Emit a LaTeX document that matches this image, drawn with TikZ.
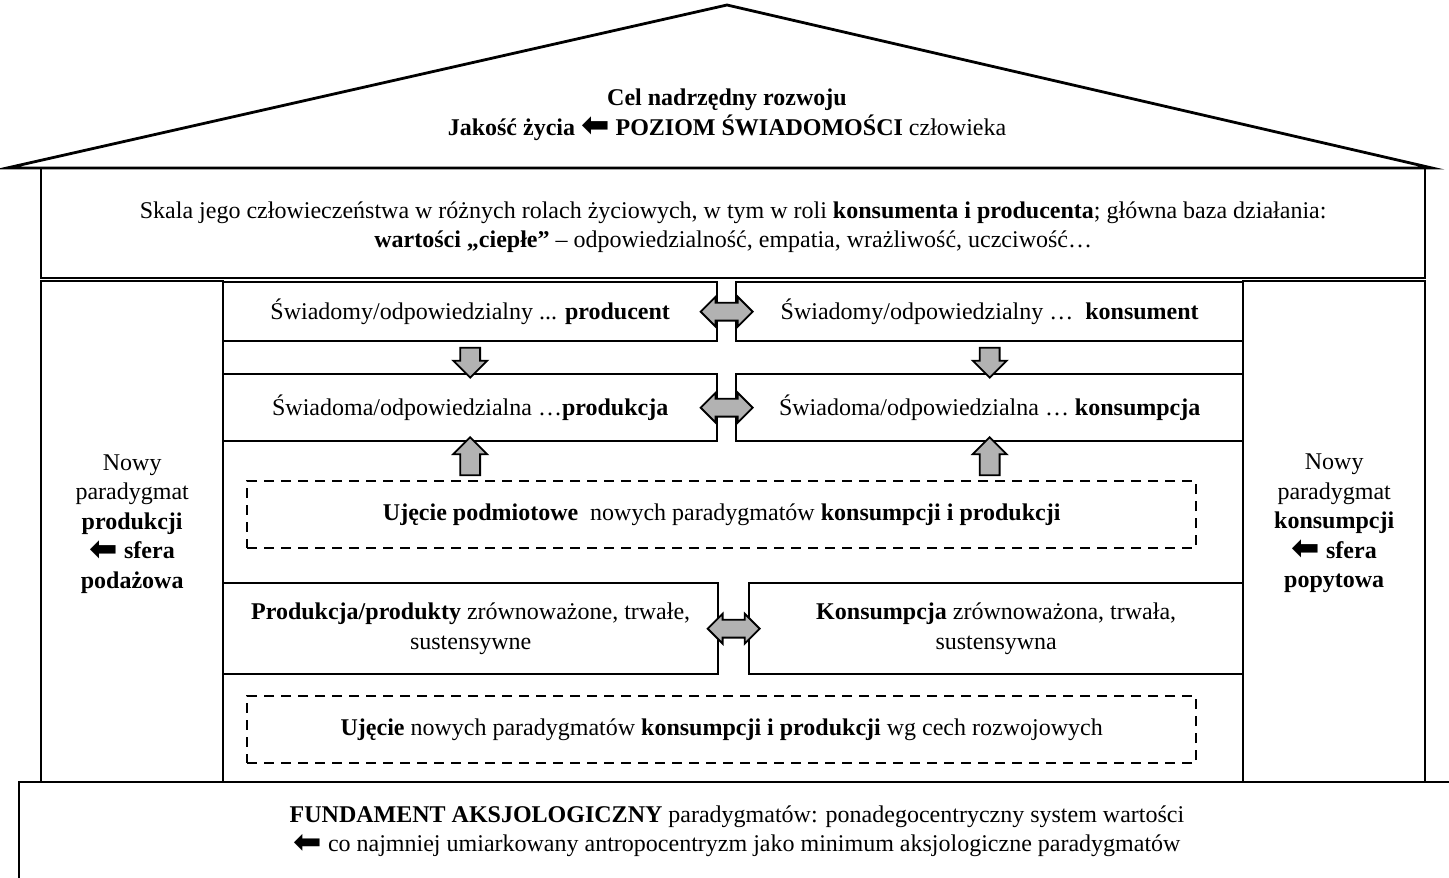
\documentclass[tikz,border=0pt]{standalone}
\usepackage{fontspec}
\setmainfont{Liberation Serif}
\newfontfamily\arrowfont{DejaVu Sans}
\usetikzlibrary{shapes.arrows, calc, positioning}
\newcommand{\lar}{{\arrowfont\fontsize{34}{34}\selectfont\raisebox{-1.5pt}{\symbol{"2B05}}}}

\begin{document}
\begin{tikzpicture}[
    x=1pt, y=-1pt,
    font=\fontsize{24}{29.5}\selectfont,
    wall/.style={draw, line width=2.4pt, align=center, inner sep=0pt},
    dashbox/.style={draw, line width=2.4pt, dash pattern=on 10pt off 7pt, align=center, inner sep=0pt},
    roof/.style={draw, line width=2.8pt, line join=miter},
    lr/.style={double arrow, draw, line width=1.8pt, fill=black!30, minimum height=52pt, minimum width=29pt, double arrow head extend=6pt, inner sep=8pt},
    vert/.style={single arrow, draw, line width=1.8pt, fill=black!30, minimum width=32pt, single arrow head extend=7pt, inner sep=9pt},
]
\useasboundingbox (0,0) rectangle (1449,878);

% Roof
\draw[roof] (7,168) -- (727,5) -- (1432,168) -- cycle;
\node[align=center] (goal) at (727,115) {\textbf{Cel nadrzędny rozwoju}\\
  \textbf{Jakość życia \lar{} POZIOM ŚWIADOMOŚCI} człowieka};

% Upper storey
\node[wall, anchor=north west, minimum width=1384, minimum height=110] (scale) at (40,167) {};
\node[align=center] (scaletext) at ($(scale.center)+(0,4)$)
  {Skala jego człowieczeństwa w różnych rolach życiowych, w tym w roli \textbf{konsumenta i producenta}; główna baza działania:\\
   \textbf{wartości „ciepłe”} – odpowiedzialność, empatia, wrażliwość, uczciwość…};

% Side columns
\node[wall, anchor=north west, minimum width=182, minimum height=501] (prodcol) at (40,280) {};
\node[wall, anchor=north west, minimum width=182, minimum height=501] (konscol) at (1242,280) {};
\node[align=center] (prodtext) at ($(prodcol.center)+(0,-8)$)
  {Nowy\\paradygmat\\\textbf{produkcji}\\\textbf{\lar{} sfera}\\\textbf{podażowa}};
\node[align=center] (konstext) at ($(konscol.center)+(0,-8)$)
  {Nowy\\paradygmat\\\textbf{konsumpcji}\\\textbf{\lar{} sfera}\\\textbf{popytowa}};

% Middle rows
\node[wall, anchor=north west, minimum width=494, minimum height=59] (prodA) at (222,281)
  {Świadomy/odpowiedzialny ... \textbf{producent}};
\node[wall, anchor=north west, minimum width=507, minimum height=59] (konsA) at (735,281)
  {Świadomy/odpowiedzialny …\ \ \textbf{konsument}};
\node[wall, anchor=north west, minimum width=494, minimum height=67] (prodB) at (222,373)
  {Świadoma/odpowiedzialna …\textbf{produkcja}};
\node[wall, anchor=north west, minimum width=507, minimum height=67] (konsB) at (735,373)
  {Świadoma/odpowiedzialna … \textbf{konsumpcja}};
\node[dashbox, anchor=north west, minimum width=949, minimum height=67] (subj) at (246,480)
  {\textbf{Ujęcie podmiotowe}\ \ nowych paradygmatów \textbf{konsumpcji i produkcji}};
\node[wall, anchor=north west, minimum width=495, minimum height=91] (prodC) at (222,582)
  {\textbf{Produkcja/produkty} zrównoważone, trwałe,\\sustensywne};
\node[wall, anchor=north west, minimum width=494, minimum height=91] (konsC) at (748,582)
  {\textbf{Konsumpcja} zrównoważona, trwała,\\sustensywna};
\node[dashbox, anchor=north west, minimum width=949, minimum height=67] (devel) at (246,695)
  {\textbf{Ujęcie} nowych paradygmatów \textbf{konsumpcji i produkcji} wg cech rozwojowych};

% Foundation
\node[wall, anchor=north west, minimum width=1460, minimum height=120] (fund) at (18,781) {};
\node[align=center] (fundtext) at (737,831)
  {\textbf{FUNDAMENT AKSJOLOGICZNY} paradygmatów: ponadegocentryczny system wartości\\
   \lar{} co najmniej umiarkowany antropocentryzm jako minimum aksjologiczne paradygmatów};

% Block arrows
\node[lr] (arA) at ($(prodA.east)!0.5!(konsA.west)$) {};
\node[lr] (arB) at ($(prodB.east)!0.5!(konsB.west)$) {};
\node[lr] (arC) at ($(prodC.east)!0.5!(konsC.west)$) {};
\node[vert, minimum height=30pt, shape border rotate=270] (downP) at ($(prodA.south)!0.5!(prodB.north)$) {};
\node[vert, minimum height=30pt, shape border rotate=270] (downK) at ($(konsA.south)!0.5!(konsB.north)$) {};
\node[vert, minimum height=38pt, shape border rotate=90] (upP) at ($(prodB.south)!0.5!(subj.north -| prodB.south)$) {};
\node[vert, minimum height=38pt, shape border rotate=90] (upK) at ($(konsB.south)!0.5!(subj.north -| konsB.south)$) {};

\end{tikzpicture}
\end{document}
